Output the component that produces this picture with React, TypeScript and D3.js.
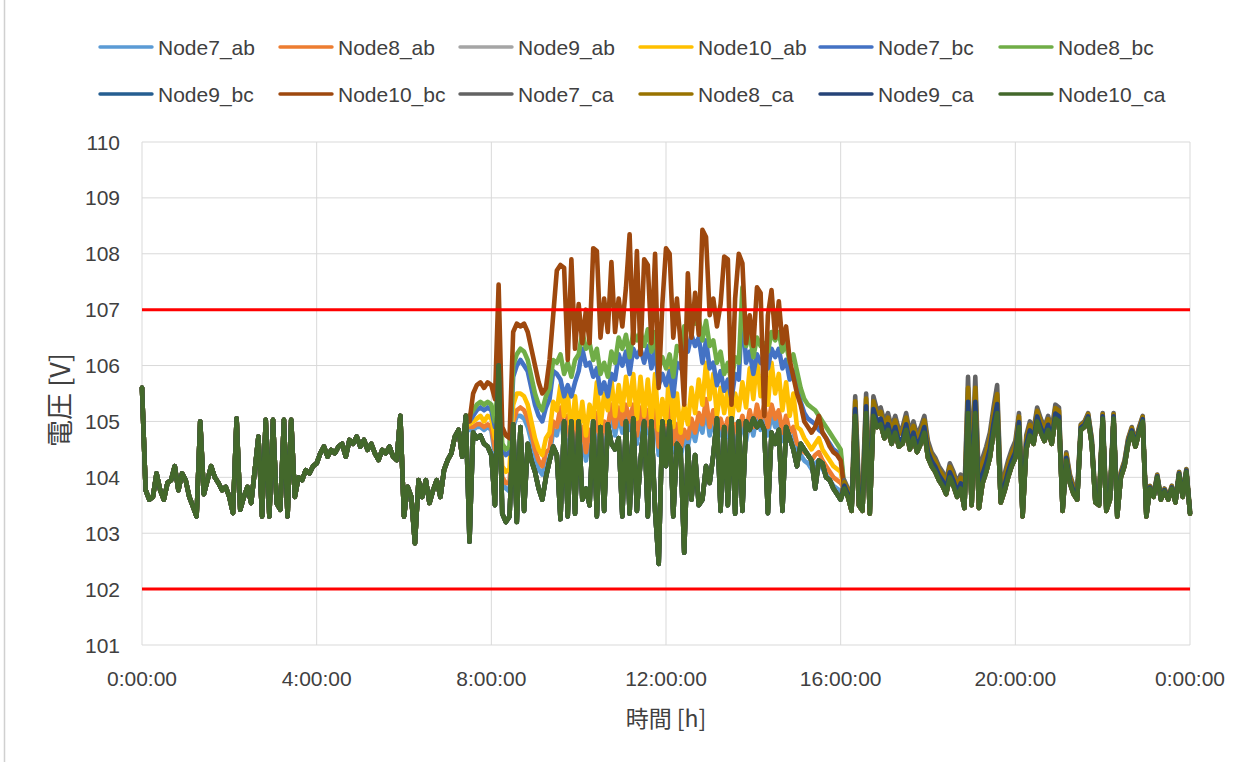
import React from 'react';
import * as d3 from 'd3';

const W = 1258;
const H = 762;
const STEP_MIN = 5; // minutes between samples

// 0:00 – 7:25, all twelve phase voltages coincide
const nightMorning = [
  105.6, 103.77, 103.6, 103.65, 104.07, 103.77, 103.6, 103.9, 103.95, 104.2,
  103.77, 104.07, 103.95, 103.65, 103.48, 103.3, 105.0, 103.7, 103.95, 104.2,
  104.0, 103.9, 103.77, 103.83, 103.65, 103.36, 105.05, 103.42, 103.65, 103.83,
  103.54, 104.13, 104.73, 103.3, 105.03, 103.3, 105.03, 103.54, 103.42, 105.03,
  103.3, 105.03, 103.65, 104.0, 103.95, 104.13, 104.07, 104.2, 104.25, 104.43,
  104.55, 104.37, 104.49, 104.43, 104.55, 104.6, 104.37, 104.67, 104.6, 104.73,
  104.55, 104.67, 104.49, 104.6, 104.43, 104.31, 104.49, 104.43, 104.55, 104.37,
  104.31, 105.1, 103.3, 103.83, 103.65, 102.82, 103.95, 103.65, 103.95, 103.54,
  103.77, 103.95, 103.65, 104.13, 104.31, 104.43, 104.73, 104.85, 104.37, 105.1,
];

// 7:30 – 16:00 daytime traces
const dayN10ca = [
  102.85, 104.8, 104.7, 104.75, 104.6, 104.55, 104.4, 103.5, 106.0, 103.35,
  103.2, 103.3, 104.95, 103.2, 104.9, 103.4, 104.6, 104.3, 104.1, 103.8,
  103.6, 104.0, 104.3, 104.55, 104.4, 103.25, 105.0, 103.3, 105.0, 103.35,
  105.0, 103.6, 103.8, 103.5, 105.0, 103.3, 104.9, 103.4, 104.95, 104.6,
  104.5, 104.7, 103.3, 105.0, 103.35, 105.05, 103.4, 104.3, 105.0, 103.3,
  105.0, 103.4, 102.45, 105.0, 104.2, 105.0, 103.3, 104.6, 104.5, 102.65,
  104.55, 103.6, 104.4, 103.5, 103.6, 104.2, 103.9, 104.4, 105.05, 103.4,
  104.9, 103.5, 105.05, 103.35, 105.0, 103.4, 105.0, 104.85, 105.05, 104.9,
  105.0, 104.85, 103.36, 104.8, 104.6, 104.85, 103.4, 104.9, 104.7, 104.5,
  104.2, 104.6, 104.5, 104.4, 104.3, 103.8, 104.3, 104.25, 104.0, 103.95,
  103.8, 103.7, 103.6,
];

const dayN10bc = [
  105.0, 105.5, 105.65, 105.7, 105.6, 105.7, 105.65, 105.4, 107.45, 104.9,
  104.75, 104.7, 106.6, 106.75, 106.7, 106.75, 106.6, 106.3, 106.0, 105.7,
  105.5, 105.6, 106.1, 106.9, 107.7, 107.8, 107.75, 106.1, 107.9, 106.3,
  107.1, 106.4, 107.0, 106.4, 108.1, 108.05, 106.5, 107.2, 106.6, 107.85,
  106.6, 107.2, 106.7, 107.4, 108.35, 106.4, 108.05, 106.2, 107.9, 107.8,
  106.4, 108.0, 105.6, 107.1, 108.1, 108.0, 106.5, 107.2, 106.4, 105.3,
  107.65, 106.5, 107.3, 106.55, 108.43, 108.3, 106.9, 107.2, 106.7, 107.1,
  107.95, 107.9, 105.3, 107.2, 108.0, 107.83, 106.4, 106.9, 106.35, 107.4,
  107.3, 105.1, 106.9, 107.35, 106.5, 107.15, 106.4, 106.7, 106.1, 105.8,
  105.5, 105.3, 105.0, 104.9, 104.8, 104.9, 105.1, 104.8, 104.7, 104.55,
  104.45, 104.4, 104.3,
];

const dayN8bc = [
  105.1, 105.2, 105.3, 105.35, 105.3, 105.35, 105.3, 105.0, 105.8, 104.6,
  104.5, 104.55, 106.0, 106.2, 106.3, 106.25, 106.1, 105.8, 105.5, 105.3,
  105.2, 105.45, 105.6, 106.1, 106.05, 106.2, 105.85, 106.05, 105.8, 106.1,
  106.2, 106.6, 106.3, 106.4, 106.1, 106.3, 105.85, 106.05, 105.8, 106.25,
  106.05, 106.5, 106.3, 106.55, 106.15, 106.6, 106.45, 106.6, 106.35, 106.65,
  106.25, 106.6, 105.95, 106.15, 105.95, 106.2, 105.8, 106.35, 106.25, 106.7,
  106.65, 106.95, 106.75, 106.85, 106.45, 106.8, 106.35, 106.45, 106.05, 106.25,
  105.85, 106.05, 105.7, 106.15, 106.05, 107.4, 106.35, 106.55, 106.15, 106.5,
  106.35, 106.4, 106.25, 106.6, 106.45, 106.6, 106.25, 106.4, 106.05, 106.2,
  105.9, 105.6, 105.4, 105.3, 105.25, 105.2, 105.1, 105.0, 104.9, 104.8,
  104.7, 104.6, 104.5,
];

const dayN7bc = [
  105.0, 105.1, 105.2, 105.25, 105.2, 105.25, 105.2, 104.9, 105.6, 104.5,
  104.4, 104.45, 105.8, 106.0, 106.1, 106.0, 105.9, 105.6, 105.3, 105.1,
  105.0, 105.25, 105.4, 105.9, 105.85, 105.75, 105.45, 105.65, 105.45, 105.7,
  105.9, 106.3, 106.0, 106.05, 105.8, 105.95, 105.5, 105.7, 105.45, 105.85,
  105.75, 106.2, 106.0, 106.25, 105.85, 106.3, 106.15, 106.3, 106.05, 106.35,
  105.95, 106.3, 105.65, 105.85, 105.65, 105.9, 105.45, 106.05, 105.95, 106.4,
  106.25, 106.55, 106.35, 106.5, 106.05, 106.45, 105.95, 106.05, 105.65, 105.9,
  105.55, 105.75, 105.4, 105.85, 105.75, 107.1, 106.05, 106.25, 105.85, 106.2,
  106.05, 106.1, 105.95, 106.3, 106.15, 106.3, 105.95, 106.1, 105.75, 105.9,
  105.6, 105.35, 105.15, 105.05, 105.0, 104.95, 104.85, 104.8, 104.7, 104.6,
  104.5, 104.45, 104.4,
];

const dayN10ab = [
  104.95, 105.0, 105.05, 105.1, 105.0, 105.1, 105.05, 104.7, 105.3, 104.2,
  104.1, 104.15, 105.3, 105.5, 105.5, 105.45, 105.3, 105.0, 104.7, 104.5,
  104.4, 104.7, 104.8, 105.35, 105.2, 105.65, 105.1, 105.5, 104.75, 105.45,
  104.8, 105.35, 104.75, 105.3, 105.0, 105.7, 104.9, 105.5, 105.2, 105.75,
  105.1, 105.65, 105.2, 105.8, 105.3, 105.85, 105.05, 105.8, 105.1, 105.75,
  104.95, 105.85, 104.85, 105.4, 105.0, 105.95, 104.9, 105.5, 104.8, 105.3,
  104.95, 105.6, 105.15, 105.75, 105.3, 106.05, 105.4, 105.85, 105.1, 105.6,
  105.15, 105.6, 104.95, 105.5, 105.2, 105.7, 105.25, 105.95, 105.4, 106.1,
  105.45, 106.0, 105.3, 106.05, 105.5, 105.85, 105.2, 105.7, 105.1, 105.5,
  104.9, 104.85, 104.7, 104.6, 104.5, 104.6, 104.7, 104.5, 104.4, 104.3,
  104.2, 104.15, 104.1,
];

const dayN8ab = [
  104.9, 104.9, 104.95, 104.95, 104.9, 104.95, 104.9, 104.5, 105.1, 104.0,
  103.9, 103.9, 105.0, 105.2, 105.25, 105.2, 105.05, 104.8, 104.5, 104.3,
  104.2, 104.45, 104.5, 105.0, 104.9, 105.25, 104.8, 105.1, 104.45, 105.0,
  104.55, 104.9, 104.45, 104.85, 104.7, 105.15, 104.55, 105.0, 104.9, 105.3,
  104.9, 105.25, 104.95, 105.3, 105.0, 105.3, 104.75, 105.25, 104.8, 105.2,
  104.7, 105.3, 104.55, 104.95, 104.75, 105.3, 104.6, 104.95, 104.5, 104.85,
  104.7, 105.05, 104.8, 105.15, 104.95, 105.4, 104.9, 105.2, 104.75, 105.05,
  104.8, 105.05, 104.6, 104.95, 104.85, 105.1, 104.8, 105.2, 104.9, 105.3,
  105.0, 105.3, 104.9, 105.3, 105.05, 105.2, 104.8, 105.1, 104.8, 104.9,
  104.6, 104.55, 104.45, 104.4, 104.3, 104.4, 104.45, 104.3, 104.2, 104.1,
  104.0, 103.95, 103.9,
];

const dayN7ab = [
  104.85, 104.85, 104.9, 104.9, 104.85, 104.9, 104.85, 104.4, 105.0, 103.9,
  103.8, 103.75, 104.9, 105.1, 105.1, 105.05, 104.9, 104.65, 104.3, 104.15,
  104.05, 104.3, 104.35, 104.85, 104.75, 105.1, 104.65, 104.95, 104.3, 104.85,
  104.4, 104.75, 104.3, 104.7, 104.55, 105.0, 104.4, 104.85, 104.75, 105.15,
  104.75, 105.1, 104.8, 105.15, 104.85, 105.15, 104.6, 105.1, 104.65, 105.05,
  104.55, 105.15, 104.4, 104.8, 104.6, 105.15, 104.45, 104.8, 104.35, 104.7,
  104.55, 104.9, 104.65, 105.0, 104.8, 105.25, 104.75, 105.05, 104.6, 104.9,
  104.65, 104.9, 104.45, 104.8, 104.7, 104.95, 104.65, 105.05, 104.75, 105.15,
  104.85, 105.15, 104.75, 105.15, 104.9, 105.05, 104.65, 104.95, 104.65, 104.75,
  104.45, 104.4, 104.3, 104.25, 104.15, 104.25, 104.3, 104.15, 104.05, 103.95,
  103.85, 103.8, 103.75,
];

// 16:05 – 24:00 evening traces
const eveN10ca = [
  103.8, 103.65, 103.4, 105.1, 103.5, 103.4, 105.15, 103.35, 105.1, 104.9,
  104.95, 104.7, 104.85, 104.6, 104.8, 104.55, 104.6, 104.85, 104.5, 104.7,
  104.45, 104.6, 104.8, 104.35, 104.2, 104.1, 103.95, 103.85, 103.7, 104.0,
  103.85, 103.65, 103.8, 103.45, 105.15, 103.5, 105.15, 103.45, 103.9, 104.1,
  104.35, 104.8, 105.15, 103.55, 103.75, 104.0, 104.2, 104.35, 104.9, 103.3,
  104.5, 104.75, 104.6, 105.0, 104.8, 104.65, 104.85, 104.6, 105.05, 105.0,
  103.4, 104.3, 103.9, 103.7, 103.6, 104.85, 104.9, 105.05, 104.6, 103.55,
  103.5, 105.05, 103.4, 103.6, 105.05, 103.3, 104.0, 104.2, 104.6, 104.8,
  104.55, 104.8, 105.0, 103.3, 103.8, 103.65, 104.0, 103.6, 103.75, 103.6,
  103.8, 103.55, 104.05, 103.65, 104.1, 103.35,
];

const eveN7ca = [
  103.95, 103.8, 103.55, 105.45, 103.85, 103.75, 105.5, 103.7, 105.45, 105.2,
  105.25, 105.0, 105.15, 104.9, 105.1, 104.85, 104.9, 105.15, 104.8, 105.0,
  104.75, 104.9, 105.1, 104.65, 104.45, 104.35, 104.2, 104.1, 103.95, 104.25,
  104.1, 103.9, 104.05, 103.7, 105.8, 104.1, 105.8, 103.9, 104.35, 104.55,
  104.8, 105.25, 105.65, 103.85, 104.05, 104.3, 104.5, 104.65, 105.15, 103.55,
  104.75, 105.0, 104.85, 105.25, 105.05, 104.9, 105.1, 104.85, 105.3, 105.25,
  103.55, 104.45, 104.05, 103.85, 103.75, 104.95, 105.0, 105.15, 104.7, 103.65,
  103.6, 105.15, 103.5, 103.7, 105.15, 103.4, 104.1, 104.3, 104.7, 104.9,
  104.65, 104.9, 105.1, 103.35, 103.85, 103.7, 104.05, 103.65, 103.8, 103.65,
  103.85, 103.6, 104.1, 103.7, 104.15, 103.4,
];

const eveN8ca = [
  103.91, 103.76, 103.51, 105.36, 103.76, 103.66, 105.41, 103.61, 105.36, 105.12,
  105.17, 104.92, 105.07, 104.82, 105.02, 104.77, 104.82, 105.07, 104.72, 104.92,
  104.67, 104.82, 105.02, 104.57, 104.39, 104.29, 104.14, 104.04, 103.89, 104.19,
  104.04, 103.84, 103.99, 103.64, 105.6, 103.95, 105.6, 103.79, 104.24, 104.44,
  104.69, 105.14, 105.49, 103.77, 103.97, 104.22, 104.42, 104.57, 105.09, 103.49,
  104.69, 104.94, 104.79, 105.19, 104.99, 104.84, 105.04, 104.79, 105.24, 105.19,
  103.51, 104.41, 104.01, 103.81, 103.71, 104.93, 104.98, 105.13, 104.68, 103.63,
  103.58, 105.13, 103.48, 103.68, 105.13, 103.38, 104.08, 104.28, 104.68, 104.88,
  104.63, 104.88, 105.08, 103.34, 103.84, 103.69, 104.04, 103.64, 103.79, 103.64,
  103.84, 103.59, 104.09, 103.69, 104.14, 103.39,
];

const eveN9ca = [
  103.85, 103.7, 103.45, 105.22, 103.62, 103.52, 105.27, 103.47, 105.22, 105.0,
  105.05, 104.8, 104.95, 104.7, 104.9, 104.65, 104.7, 104.95, 104.6, 104.8,
  104.55, 104.7, 104.9, 104.45, 104.29, 104.19, 104.04, 103.94, 103.79, 104.09,
  103.94, 103.74, 103.89, 103.54, 105.35, 103.7, 105.35, 103.61, 104.06, 104.26,
  104.51, 104.96, 105.31, 103.65, 103.85, 104.1, 104.3, 104.45, 104.99, 103.39,
  104.59, 104.84, 104.69, 105.09, 104.89, 104.74, 104.94, 104.69, 105.14, 105.09,
  103.45, 104.35, 103.95, 103.75, 103.65, 104.89, 104.94, 105.09, 104.64, 103.59,
  103.54, 105.09, 103.44, 103.64, 105.09, 103.34, 104.04, 104.24, 104.64, 104.84,
  104.59, 104.84, 105.04, 103.32, 103.82, 103.67, 104.02, 103.62, 103.77, 103.62,
  103.82, 103.57, 104.07, 103.67, 104.12, 103.37,
];

const seriesNames = [
  'Node7_ab', 'Node8_ab', 'Node9_ab', 'Node10_ab', 'Node7_bc', 'Node8_bc',
  'Node9_bc', 'Node10_bc', 'Node7_ca', 'Node8_ca', 'Node9_ca', 'Node10_ca',
];
const seriesColors = [
  '#5B9BD5', '#ED7D31', '#A5A5A5', '#FFC000', '#4472C4', '#70AD47',
  '#255E91', '#9E480E', '#636363', '#997300', '#264478', '#43682B',
];
const seriesValues = [
  [...nightMorning, ...dayN7ab, ...eveN10ca],
  [...nightMorning, ...dayN8ab, ...eveN10ca],
  [...nightMorning, ...dayN10ca, ...eveN10ca],
  [...nightMorning, ...dayN10ab, ...eveN10ca],
  [...nightMorning, ...dayN7bc, ...eveN10ca],
  [...nightMorning, ...dayN8bc, ...eveN10ca],
  [...nightMorning, ...dayN10ca, ...eveN10ca],
  [...nightMorning, ...dayN10bc, ...eveN10ca],
  [...nightMorning, ...dayN10ca, ...eveN7ca],
  [...nightMorning, ...dayN10ca, ...eveN8ca],
  [...nightMorning, ...dayN10ca, ...eveN9ca],
  [...nightMorning, ...dayN10ca, ...eveN10ca],
];

const xTickMinutes = [0, 240, 480, 720, 960, 1200, 1440];
const xTickLabels = ['0:00:00', '4:00:00', '8:00:00', '12:00:00', '16:00:00', '20:00:00', '0:00:00'];
const yTicks = [101, 102, 103, 104, 105, 106, 107, 108, 109, 110];
const limitLines = [107, 102];

const LATIN = "'Liberation Sans', Arial, sans-serif";
const CJK = "'Noto Sans CJK JP', 'Noto Sans CJK SC', sans-serif";

export default function App() {
  const plot = { left: 142, right: 1190, top: 142, bottom: 645 };
  const x = d3.scaleLinear().domain([0, 1440]).range([plot.left, plot.right]);
  const y = d3.scaleLinear().domain([101, 110]).range([plot.bottom, plot.top]);
  const line = d3
    .line<number>()
    .x((_, i) => x(i * STEP_MIN))
    .y((d) => y(d));

  return (
    <svg
      width={W}
      height={H}
      viewBox={`0 0 ${W} ${H}`}
      style={{ position: 'absolute', left: 0, top: 0, background: '#fff' }}
    >
      <rect x={0} y={0} width={W} height={H} fill="#fff" />
      <line x1={4.5} x2={4.5} y1={0} y2={H} stroke="#d0d0d0" strokeWidth={1.5} />

      {/* gridlines */}
      {yTicks.map((t) => (
        <line key={`gy${t}`} x1={plot.left} x2={plot.right} y1={y(t)} y2={y(t)} stroke="#d9d9d9" strokeWidth={1} />
      ))}
      {xTickMinutes.map((m, i) => (
        <line key={`gx${i}`} x1={x(m)} x2={x(m)} y1={plot.top} y2={plot.bottom} stroke="#d9d9d9" strokeWidth={1} />
      ))}

      {/* series */}
      {seriesValues.map((vals, k) => (
        <path
          key={seriesNames[k]}
          d={line(vals) || ''}
          fill="none"
          stroke={seriesColors[k]}
          strokeWidth={4.6}
          strokeLinejoin="round"
          strokeLinecap="round"
        />
      ))}

      {/* voltage limits */}
      {limitLines.map((v) => (
        <line key={`lim${v}`} x1={plot.left} x2={plot.right} y1={y(v)} y2={y(v)} stroke="#FF0000" strokeWidth={3} />
      ))}

      {/* y tick labels */}
      {yTicks.map((t) => (
        <text key={`ty${t}`} x={120} y={y(t) + 7.5} textAnchor="end" fontFamily={LATIN} fontSize={21} fill="#404040">
          {t}
        </text>
      ))}
      {/* x tick labels */}
      {xTickMinutes.map((m, i) => (
        <text key={`tx${i}`} x={x(m)} y={686} textAnchor="middle" fontFamily={LATIN} fontSize={21} fill="#404040">
          {xTickLabels[i]}
        </text>
      ))}

      {/* axis titles */}
      <text x={666} y={727} textAnchor="middle" fontFamily={CJK} fontSize={23} fill="#404040">
        時間 [h]
      </text>
      <text
        transform="translate(70,400) rotate(-90)"
        textAnchor="middle"
        fontFamily={CJK}
        fontSize={27}
        fill="#404040"
      >
        電圧 [V]
      </text>

      {/* legend */}
      {seriesNames.map((name, k) => {
        const col = k % 6;
        const row = Math.floor(k / 6);
        const lx = 100 + col * 180;
        const ly = 47 + row * 47;
        return (
          <g key={`lg${name}`}>
            <line x1={lx} x2={lx + 52} y1={ly} y2={ly} stroke={seriesColors[k]} strokeWidth={3.4} strokeLinecap="round" />
            <text x={lx + 58} y={ly + 7.5} fontFamily={LATIN} fontSize={21} fill="#404040">
              {name}
            </text>
          </g>
        );
      })}
    </svg>
  );
}
